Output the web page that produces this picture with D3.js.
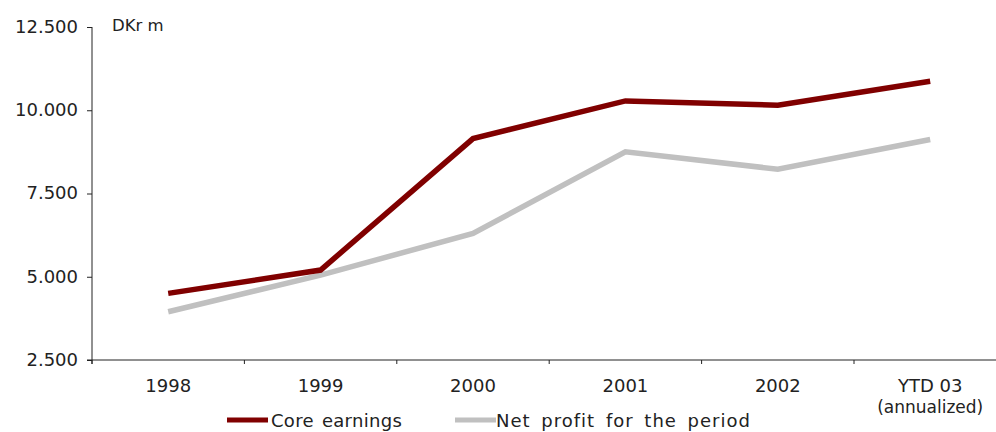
<!DOCTYPE html>
<html>
<head>
<meta charset="utf-8">
<script src="https://cdn.jsdelivr.net/npm/d3@7"></script>
<style>
  body { margin: 0; background: #fff; }
  svg { display: block; }
  text { font-family: "DejaVu Sans", sans-serif; fill: #222; }
</style>
</head>
<body>
<svg id="chart" width="996" height="432"></svg>
<script>
// Earnings development, DKr m
const categories = ["1998", "1999", "2000", "2001", "2002", "YTD 03"];
const categorySubLabels = ["", "", "", "", "", "(annualized)"];
const coreEarnings = [4500, 5200, 9150, 10280, 10150, 10870];
const netProfit = [3950, 5050, 6300, 8750, 8230, 9120];
const yTicks = [2500, 5000, 7500, 10000, 12500];
const seriesNames = ["Core earnings", "Net profit for the period"];
const seriesColors = ["#800000", "#c0c0c0"];

const svg = d3.select("#chart");
const plotLeft = 92, plotTop = 27, plotBottom = 360;
const step = 152.4;
const plotRight = plotLeft + step * categories.length;

const x = d3.scaleBand().domain(categories).range([plotLeft, plotRight]).paddingInner(0).paddingOuter(0);
const y = d3.scaleLinear().domain([2500, 12500]).range([plotBottom, plotTop]);
const fmt = v => d3.format(",")(v).replace(/,/g, ".");

// y axis
const yAxis = svg.append("g")
  .attr("transform", `translate(${plotLeft},0)`)
  .call(d3.axisLeft(y).tickValues(yTicks).tickFormat(fmt).tickSize(5).tickPadding(9));
yAxis.select(".domain").attr("stroke", "#222").attr("d", `M0,${plotTop}V${plotBottom + 4}`);
yAxis.selectAll(".tick line").attr("stroke", "#222");
yAxis.selectAll(".tick text").style("font-size", "18px").attr("fill", "#222").attr("dy", "0.3em");

// x axis: ticks on band boundaries
const xg = svg.append("g").attr("transform", `translate(0,${plotBottom})`);
xg.append("line").attr("x1", plotLeft - 5).attr("x2", plotRight).attr("y1", 0).attr("y2", 0).attr("stroke", "#222");
const boundaries = categories.map(c => x(c));
xg.selectAll("line.tk").data(boundaries).join("line")
  .attr("class", "tk")
  .attr("x1", d => d).attr("x2", d => d)
  .attr("y1", 0).attr("y2", 4).attr("stroke", "#222");
const cx = c => x(c) + x.bandwidth() / 2;
xg.selectAll("text.cat").data(categories).join("text")
  .attr("class", "cat")
  .attr("x", d => cx(d)).attr("y", 32)
  .attr("text-anchor", "middle").style("font-size", "18px")
  .text(d => d);
xg.selectAll("text.sub").data(categories.map((c, i) => [c, categorySubLabels[i]]).filter(d => d[1])).join("text")
  .attr("class", "sub")
  .attr("x", d => cx(d[0])).attr("y", 53)
  .attr("text-anchor", "middle").style("font-size", "17px")
  .text(d => d[1]);

// unit label
svg.append("text").attr("x", 112).attr("y", 31).style("font-size", "16.5px").text("DKr m");

// lines
const line = d3.line().x((d, i) => cx(categories[i])).y(d => y(d));
[netProfit, coreEarnings].forEach((vals, k) => {
  const color = k === 0 ? seriesColors[1] : seriesColors[0];
  svg.append("path").datum(vals)
    .attr("fill", "none").attr("stroke", color).attr("stroke-width", 5.5)
    .attr("stroke-linejoin", "miter")
    .attr("d", line);
});

// legend
const legendPos = [[227, 271, "0.3px", "2px"], [455, 496, "1px", "4px"]];
seriesNames.forEach((name, i) => {
  const [lx, tx, ls, ws] = legendPos[i];
  svg.append("line").attr("x1", lx).attr("x2", lx + 41).attr("y1", 420).attr("y2", 420)
    .attr("stroke", seriesColors[i]).attr("stroke-width", 5);
  svg.append("text").attr("x", tx).attr("y", 427).style("font-size", "18px")
    .style("letter-spacing", ls).style("word-spacing", ws).text(name);
});
</script>
</body>
</html>
